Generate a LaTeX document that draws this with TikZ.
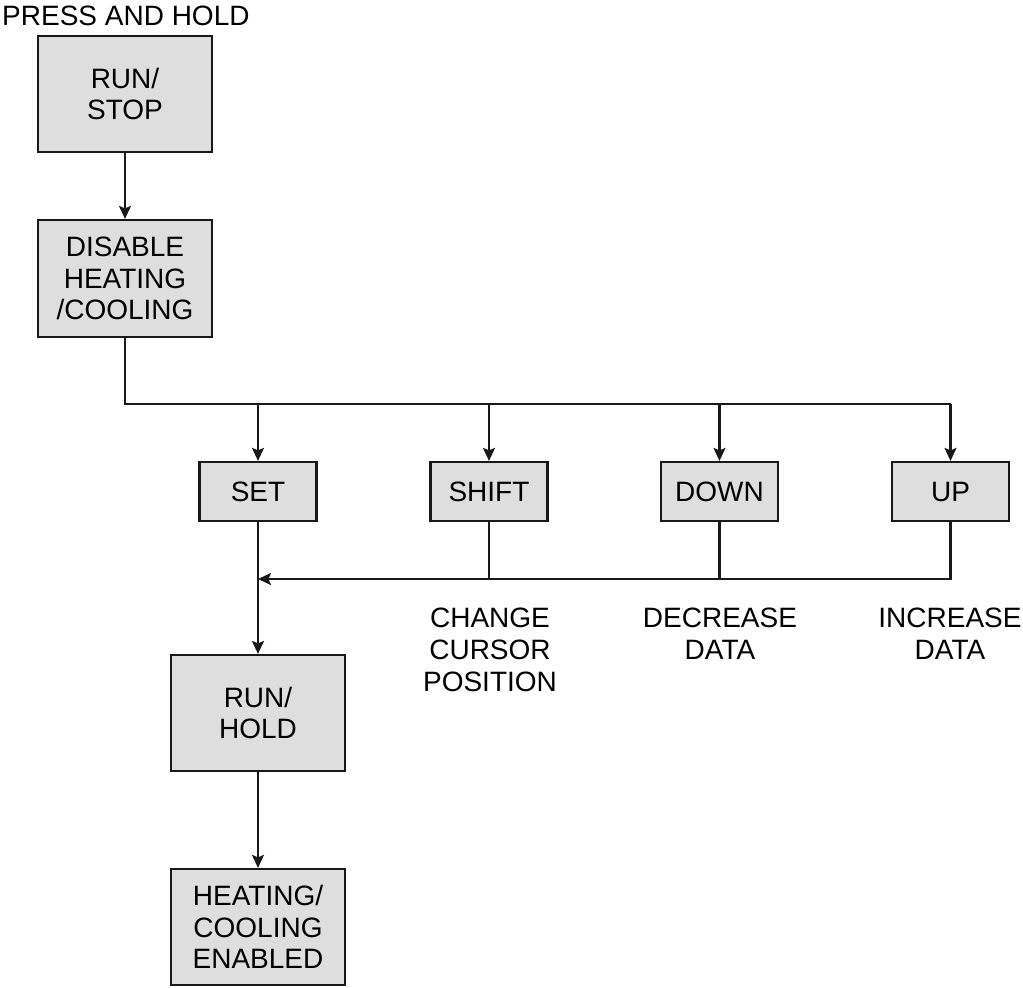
\documentclass[tikz,border=0pt]{standalone}
\usepackage{fontspec}
\setmainfont{Liberation Sans}
\usetikzlibrary{arrows.meta}
\tikzset{
  box/.style={draw=black!90, line width=2.2pt, fill=black!13, align=center, inner sep=0pt,
    font=\fontsize{28}{31.5}\selectfont},
  bigbox/.style={box, minimum width=174pt, minimum height=116pt},
  keybox/.style={box, minimum width=117pt, minimum height=59pt},
  lbl/.style={align=center, inner sep=0pt, font=\fontsize{28}{32}\selectfont},
  conn/.style={line width=2.2pt, draw=black!90},
  arr/.style={conn, -{Stealth[length=13pt, width=12pt, inset=2.5pt]}},
}
\begin{document}
\begin{tikzpicture}[x=1pt, y=-1pt]
\useasboundingbox (0,0) rectangle (1023,988);
\node[anchor=base west, inner sep=0pt, font=\fontsize{28}{32}\selectfont] (press) at (2,25) {PRESS AND HOLD};
\node[bigbox] (runstop) at (125,94) {RUN/\\STOP};
\node[bigbox, minimum height=117pt] (disable) at (125,278.5) {DISABLE\\HEATING\\/COOLING};
\node[keybox] (set) at (258,491.5) {SET};
\node[keybox] (shift) at (489,491.5) {SHIFT};
\node[keybox] (down) at (719.5,491.5) {DOWN};
\node[keybox] (up) at (950.5,491.5) {UP};
\node[bigbox] (runhold) at (258,713) {RUN/\\HOLD};
\node[bigbox] (heating) at (258,927) {HEATING/\\COOLING\\ENABLED};
\node[lbl, anchor=north] (change) at (490,608) {CHANGE\\CURSOR\\POSITION};
\node[lbl, anchor=north] (decrease) at (720,608) {DECREASE\\DATA};
\node[lbl, anchor=north] (increase) at (950,608) {INCREASE\\DATA};
\coordinate (busR) at (950.5,404);
\coordinate (join) at (258,579);
\draw[arr] (runstop) -- (disable);
\draw[conn] (disable.south) |- (busR);
\draw[arr] (set.north |- busR) -- (set.north);
\draw[arr] (shift.north |- busR) -- (shift.north);
\draw[arr] (down.north |- busR) -- (down.north);
\draw[arr] (busR) -- (up.north);
\draw[arr] (up.south) |- (join);
\draw[conn] (shift.south) -- (shift.south |- join);
\draw[conn] (down.south) -- (down.south |- join);
\draw[arr] (set) -- (runhold);
\draw[arr] (runhold) -- (heating);
\end{tikzpicture}
\end{document}
